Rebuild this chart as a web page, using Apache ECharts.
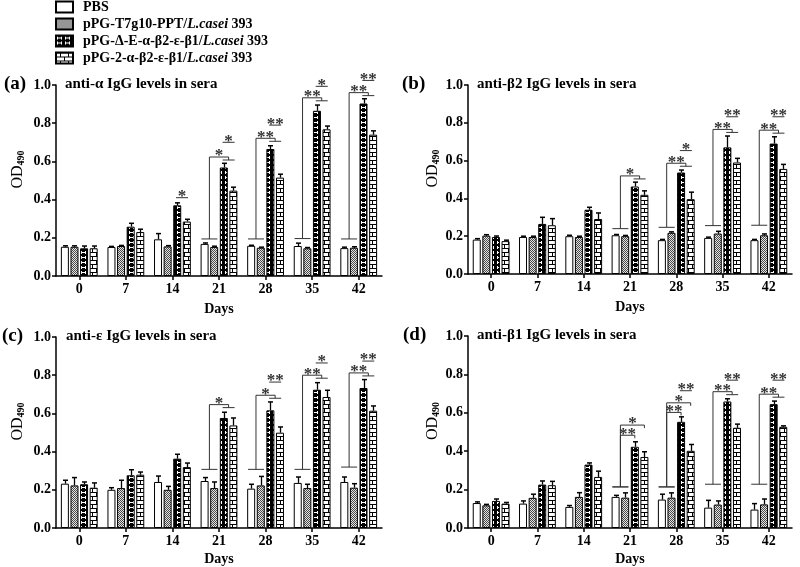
<!DOCTYPE html>
<html><head><meta charset="utf-8">
<script src="https://cdn.jsdelivr.net/npm/echarts@6/dist/echarts.min.js"></script>
<style>html,body{margin:0;padding:0;background:#fff}#c{width:800px;height:567px}</style>
</head><body><div id="c"></div>
<script>
// ---------------- data ----------------
const days = ['0','7','14','21','28','35','42'];
const yTickLabels = ['0.0','0.2','0.4','0.6','0.8','1.0'];
const seriesNames = ['PBS','pPG-T7g10-PPT/L.casei 393','pPG-Δ-E-α-β2-ε-β1/L.casei 393','pPG-2-α-β2-ε-β1/L.casei 393'];
const panelLetters = ['(a)','(b)','(c)','(d)'];
const panelTitles = ['anti-α IgG levels in sera','anti-β2 IgG levels in sera','anti-ε IgG levels in sera','anti-β1 IgG levels in sera'];

// (a) anti-alpha
const aPBS  = [0.153,0.152,0.192,0.168,0.158,0.157,0.146];
const aPBSe = [0.005,0.003,0.030,0.005,0.003,0.015,0.005];
const aT7   = [0.153,0.157,0.155,0.152,0.148,0.145,0.148];
const aT7e  = [0.005,0.003,0.004,0.004,0.003,0.004,0.005];
const aDE   = [0.145,0.258,0.370,0.568,0.665,0.865,0.903];
const aDEe  = [0.012,0.018,0.013,0.022,0.017,0.030,0.025];
const a2A   = [0.145,0.230,0.285,0.447,0.515,0.768,0.740];
const a2Ae  = [0.012,0.015,0.012,0.018,0.018,0.017,0.020];
// (b) anti-beta2
const bPBS  = [0.182,0.196,0.200,0.205,0.179,0.191,0.179];
const bPBSe = [0.005,0.004,0.005,0.004,0.004,0.004,0.004];
const bT7   = [0.203,0.196,0.196,0.200,0.218,0.214,0.205];
const bT7e  = [0.005,0.004,0.004,0.004,0.005,0.012,0.007];
const bDE   = [0.196,0.265,0.340,0.463,0.537,0.670,0.690];
const bDEe  = [0.005,0.035,0.013,0.023,0.013,0.060,0.036];
const b2A   = [0.174,0.258,0.291,0.419,0.396,0.590,0.556];
const b2Ae  = [0.005,0.035,0.032,0.021,0.037,0.022,0.024];
// (c) anti-epsilon
const cPBS  = [0.232,0.200,0.241,0.246,0.206,0.236,0.241];
const cPBSe = [0.018,0.011,0.031,0.018,0.023,0.031,0.026];
const cT7   = [0.223,0.209,0.200,0.209,0.223,0.209,0.211];
const cT7e  = [0.041,0.041,0.018,0.032,0.047,0.020,0.021];
const cDE   = [0.229,0.276,0.363,0.576,0.616,0.724,0.733];
const cDEe  = [0.012,0.029,0.023,0.030,0.044,0.037,0.044];
const c2A   = [0.211,0.279,0.319,0.537,0.499,0.686,0.614];
const c2Ae  = [0.025,0.014,0.021,0.039,0.030,0.035,0.025];
// (d) anti-beta1
const dPBS  = [0.130,0.127,0.110,0.162,0.148,0.106,0.096];
const dPBSe = [0.006,0.014,0.007,0.008,0.028,0.038,0.031];
const dT7   = [0.118,0.157,0.162,0.158,0.158,0.122,0.123];
const dT7e  = [0.005,0.019,0.022,0.025,0.025,0.019,0.028];
const dDE   = [0.141,0.226,0.330,0.423,0.553,0.659,0.645];
const dDEe  = [0.010,0.019,0.009,0.026,0.026,0.014,0.016];
const d2A   = [0.127,0.223,0.266,0.370,0.402,0.522,0.527];
const d2Ae  = [0.006,0.020,0.030,0.027,0.033,0.019,0.005];

// significance: group brackets [category, lowY, highY, label, target('pair' | bar index)]
const aGroupSig = [[3,0.194,0.623,'*','pair'],[4,0.194,0.721,'**','pair'],[5,0.196,0.933,'**','pair'],[6,0.194,0.960,'**','pair']];
const bGroupSig = [[3,0.240,0.519,'*','pair'],[4,0.247,0.586,'**','pair'],[5,0.256,0.765,'**','pair'],[6,0.258,0.761,'**','pair']];
const cGroupSig = [[3,0.307,0.646,'*','pair'],[4,0.307,0.695,'*','pair'],[5,0.307,0.800,'**','pair'],[6,0.319,0.812,'**','pair']];
const dGroupSig = [[3,0.214,0.536,'*',3],[3,0.214,0.483,'**',2],[4,0.214,0.652,'*',3],[4,0.214,0.602,'**',2],[5,0.228,0.710,'**','pair'],[6,0.228,0.697,'**','pair']];
// significance between the two vaccine groups [category, y, label]
const aPairSig = [[2,0.410,'*'],[3,0.700,'*'],[4,0.790,'**'],[5,0.993,'*'],[6,1.024,'**']];
const bPairSig = [[4,0.653,'*'],[5,0.832,'**'],[6,0.832,'**']];
const cPairSig = [[4,0.764,'**'],[5,0.864,'*'],[6,0.874,'**']];
const dPairSig = [[4,0.715,'**'],[5,0.770,'**'],[6,0.770,'**']];

// ---------------- assembly ----------------
const panels = [
  {vals:[aPBS,aT7,aDE,a2A], errs:[aPBSe,aT7e,aDEe,a2Ae], grp:aGroupSig, pair:aPairSig},
  {vals:[bPBS,bT7,bDE,b2A], errs:[bPBSe,bT7e,bDEe,b2Ae], grp:bGroupSig, pair:bPairSig},
  {vals:[cPBS,cT7,cDE,c2A], errs:[cPBSe,cT7e,cDEe,c2Ae], grp:cGroupSig, pair:cPairSig},
  {vals:[dPBS,dT7,dDE,d2A], errs:[dPBSe,dT7e,dDEe,d2Ae], grp:dGroupSig, pair:dPairSig}
];

const SERIF = '"Liberation Serif","Times New Roman",serif';
const BAR_W = 8, BAR_GAP = 0.2, STEP = BAR_W*(1+BAR_GAP);

function pat(w,h,draw){const c=document.createElement('canvas');c.width=w;c.height=h;const g=c.getContext('2d');draw(g);return {image:c,repeat:'repeat'};}
const fills = [
  '#ffffff',
  pat(2,2,g=>{g.fillStyle='#e4e4e4';g.fillRect(0,0,2,2);g.fillStyle='#4a4a4a';g.fillRect(0,0,1,1);g.fillRect(1,1,1,1);}),
  pat(8,5,g=>{g.fillStyle='#000';g.fillRect(0,0,8,5);g.fillStyle='#fff';g.fillRect(1,1,1,3);g.fillRect(5,1,1,3);g.fillRect(1,2,5,1);}),
  pat(8,8,g=>{g.fillStyle='#fff';g.fillRect(0,0,8,8);g.fillStyle='#000';g.fillRect(0,0,8,1);g.fillRect(0,4,8,1);g.fillRect(4,0,1,4);g.fillRect(0,4,1,4);})
];

const grids = [
  {left:56, top:85, width:326, height:191},
  {left:468, top:85, width:324, height:189},
  {left:56, top:337, width:326, height:191},
  {left:468, top:336, width:324, height:192}
];

const axisLine = {show:true, lineStyle:{color:'#000', width:1.5}};
const axisTick = {show:true, length:4, lineStyle:{color:'#000', width:1.5}};
const lblStyle = {color:'#000', fontFamily:SERIF, fontWeight:'bold', fontSize:14};

const xAxes = [], yAxes = [], series = [];
panels.forEach((P,p)=>{
  xAxes.push({gridIndex:p, type:'category', data:days, axisLine, axisTick:Object.assign({alignWithLabel:true},axisTick),
    axisLabel:Object.assign({margin:6},lblStyle), splitLine:{show:false},
    name:'Days', nameLocation:'middle', nameGap:(p<2)?26:24, nameTextStyle:Object.assign({},lblStyle)});
  yAxes.push({gridIndex:p, type:'value', min:0, max:1, interval:0.2, axisLine, axisTick, splitLine:{show:false},
    axisLabel:Object.assign({margin:5, formatter:(v)=>yTickLabels[Math.round(v*5)]},lblStyle),
    name:'OD{s|490}', nameLocation:'middle', nameRotate:90, nameGap:(p%2)?26:30,
    nameTextStyle:{color:'#000', fontFamily:SERIF, fontSize:16, padding:[0,0,0,22],
      rich:{s:{fontFamily:SERIF, fontSize:10, fontWeight:'bold', color:'#000', padding:[7,0,0,0]}}}});
  P.vals.forEach((arr,s)=>{
    series.push({type:'bar', name:seriesNames[s], xAxisIndex:p, yAxisIndex:p, data:arr,
      barWidth:BAR_W, barGap:(BAR_GAP*100)+'%',
      itemStyle:{color:fills[s], borderColor:'#000', borderWidth:1}, z:2});
  });
  // error bars
  const ed = [];
  P.vals.forEach((arr,s)=>arr.forEach((v,i)=>ed.push([i,s,v,P.errs[s][i]])));
  series.push({type:'custom', xAxisIndex:p, yAxisIndex:p, data:ed, encode:{x:0,y:2}, z:3, clip:false,
    renderItem:(params,api)=>{
      const cat=api.value(0), s=api.value(1), v=api.value(2), e=api.value(3);
      const p0=api.coord([cat,v]), p1=api.coord([cat,v+e]);
      const x=Math.round(p0[0]+(s-1.5)*STEP)+0.5;
      return {type:'group', children:[
        {type:'line', shape:{x1:x,y1:p0[1],x2:x,y2:p1[1]}, style:{stroke:'#000', lineWidth:1.3}},
        {type:'line', shape:{x1:x-2.5,y1:p1[1],x2:x+2.5,y2:p1[1]}, style:{stroke:'#000', lineWidth:1.5}}
      ]};
    }});
  // significance brackets
  const starFont = 'bold 17px '+SERIF;
  const lineSt = {stroke:'#333', lineWidth:1};
  series.push({type:'custom', xAxisIndex:p, yAxisIndex:p, data:P.grp.map(g=>[g[0],g[2]]), encode:{x:0,y:1}, z:4, clip:false,
    renderItem:(params,api)=>{
      const g=P.grp[params.dataIndex];
      const c=api.coord([g[0],g[2]]), lo=api.coord([g[0],g[1]]);
      const cx=c[0], stem=cx-STEP, yh=c[1], yl=lo[1];
      const ch=[
        {type:'line', shape:{x1:stem-8,y1:yl,x2:stem+8,y2:yl}, style:lineSt},
        {type:'line', shape:{x1:stem,y1:yl,x2:stem,y2:yh}, style:lineSt}
      ];
      let xe;
      if(g[4]==='pair'){
        xe=cx+STEP;
        ch.push({type:'line', shape:{x1:stem,y1:yh,x2:xe,y2:yh}, style:lineSt});
        ch.push({type:'line', shape:{x1:xe,y1:yh,x2:xe,y2:yh+3}, style:lineSt});
        ch.push({type:'line', shape:{x1:xe-6,y1:yh+3,x2:xe+6,y2:yh+3}, style:lineSt});
      } else {
        xe=cx+(g[4]-1.5)*STEP;
        ch.push({type:'line', shape:{x1:stem,y1:yh,x2:xe,y2:yh}, style:lineSt});
        ch.push({type:'line', shape:{x1:xe,y1:yh,x2:xe,y2:yh+3}, style:lineSt});
      }
      ch.push({type:'text', style:{text:g[3], x:(stem+xe)/2, y:yh-1, font:starFont, fill:'#333', align:'center', verticalAlign:'middle'}});
      return {type:'group', children:ch};
    }});
  series.push({type:'custom', xAxisIndex:p, yAxisIndex:p, data:P.pair.map(g=>[g[0],g[1]]), encode:{x:0,y:1}, z:4, clip:false,
    renderItem:(params,api)=>{
      const g=P.pair[params.dataIndex];
      const c=api.coord([g[0],g[1]]);
      const xm=c[0]+STEP, y=c[1];
      return {type:'group', children:[
        {type:'line', shape:{x1:xm-6,y1:y,x2:xm+6,y2:y}, style:lineSt},
        {type:'text', style:{text:g[2], x:xm, y:y-1, font:starFont, fill:'#333', align:'center', verticalAlign:'middle'}}
      ]};
    }});
});

const titlePos = [[4,75,65,77],[402,75,477,77],[2,327,66,329],[403,326,477,328]];
const titles = [];
titlePos.forEach((t,p)=>{
  titles.push({text:panelLetters[p], left:t[0], top:t[1], padding:0, textStyle:{fontFamily:SERIF, fontWeight:'bold', fontSize:19, color:'#000'}});
  titles.push({text:panelTitles[p], left:t[2], top:t[3], padding:0, textStyle:{fontFamily:SERIF, fontWeight:'bold', fontSize:15, color:'#000'}});
});

const chart = echarts.init(document.getElementById('c'), null, {renderer:'canvas'});
chart.setOption({
  animation:false,
  backgroundColor:'#fff',
  title:titles,
  legend:{orient:'vertical', left:55, top:0, itemWidth:17, itemHeight:11, itemGap:3, icon:'rect', padding:0,
    data:seriesNames,
    formatter:(n)=>n.replace('L.casei','{i|L.casei}'),
    textStyle:{fontFamily:SERIF, fontWeight:'bold', fontSize:14, lineHeight:14, color:'#000', padding:[0,0,0,5],
      rich:{i:{fontFamily:SERIF, fontWeight:'bold', fontStyle:'italic', fontSize:14, lineHeight:14, color:'#000'}}}},
  grid:grids,
  xAxis:xAxes,
  yAxis:yAxes,
  series:series
});
</script></body></html>
